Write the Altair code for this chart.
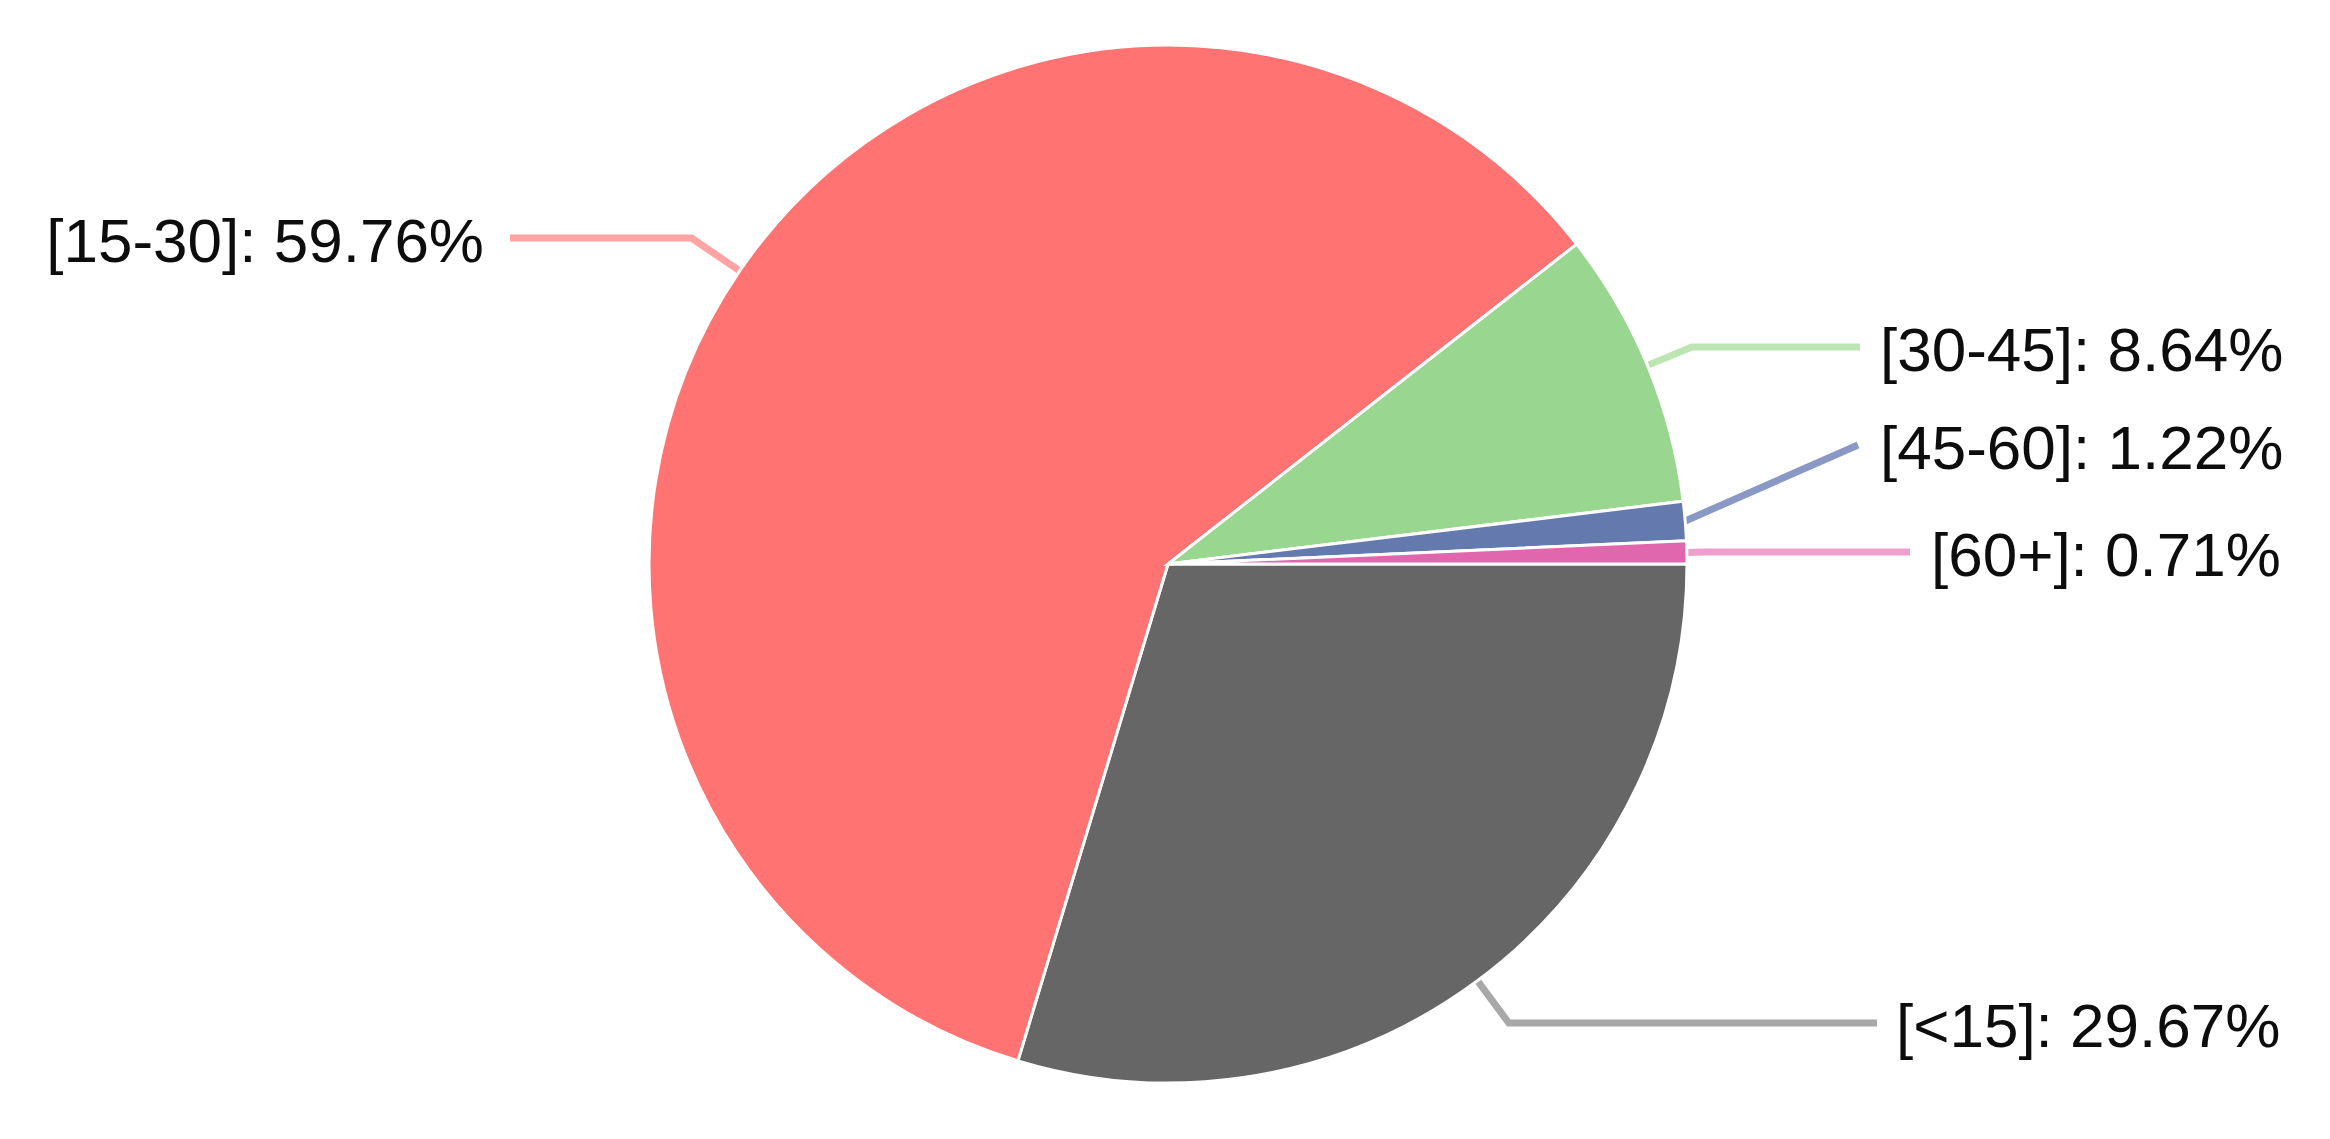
import math
import altair as alt
import pandas as pd

# ---- data ----
labels = ["[<15]", "[15-30]", "[30-45]", "[45-60]", "[60+]"]
shares = [29.67, 59.76, 8.64, 1.22, 0.71]

# ---- styles ----
slice_colors = ["#666666", "#FF7373", "#99D68F", "#6479AE", "#E066AE"]
line_colors = ["#A8A8A8", "#FFA3A3", "#BDE5B3", "#8998C4", "#EE9FCD"]

# ---- layout (chart pixel space) ----
W, H = 2314, 1123
CX, CY, R = 1160, 556, 519
label_line_x = [1869, 502, 1852, 1850, 1902]
label_line_y = [1015, 230, 339, 437, 544]
label_text_x = [1888, 476, 1872, 1872, 1923]
label_align = ["left", "right", "left", "left", "left"]
TEXT_DY = 24

total = sum(shares)
slices = pd.DataFrame({
    "label": labels,
    "value": shares,
    "order": list(range(len(labels))),
})

# leader lines: pie edge at mid-angle -> elbow -> label
line_rows = []
text_rows = []
cum = 0.0
for i, (lab, v) in enumerate(zip(labels, shares)):
    a = 2 * math.pi * (cum + v / 2) / total  # clockwise from 3 o'clock
    cum += v
    ex, ey = CX + R * math.cos(a), CY + R * math.sin(a)
    lx, ly = label_line_x[i], label_line_y[i]
    bx, by = ex, ey
    s = math.sin(a)
    if abs(s) > 1e-9:
        re = (ly - CY) / s
        px = CX + re * math.cos(a)
        if re > R and min(ex, lx) <= px <= max(ex, lx):
            bx, by = px, ly
    for k, (px_, py_) in enumerate([(ex, ey), (bx, by), (lx, ly)]):
        line_rows.append({"label": lab, "seq": k, "x": px_, "y": py_, "lc": line_colors[i]})
    text_rows.append({
        "label": lab,
        "text": f"{lab}: {v:.2f}%",
        "x": label_text_x[i],
        "y": ly + TEXT_DY,
        "align": label_align[i],
    })

lines_df = pd.DataFrame(line_rows)
text_df = pd.DataFrame(text_rows)

xs = alt.Scale(domain=[0, W], nice=False, zero=False)
ys = alt.Scale(domain=[0, H], nice=False, zero=False, reverse=True)

arcs = alt.Chart(slices).mark_arc(
    radius=R, stroke="white", strokeWidth=3
).encode(
    theta=alt.Theta("value:Q", stack=True,
                    scale=alt.Scale(range=[math.pi / 2, math.pi / 2 + 2 * math.pi])),
    order=alt.Order("order:Q"),
    color=alt.Color("label:N", scale=alt.Scale(domain=labels, range=slice_colors), legend=None),
    x=alt.value(CX),
    y=alt.value(CY),
)

lines = alt.Chart(lines_df).mark_line(strokeWidth=7).encode(
    x=alt.X("x:Q", scale=xs, axis=None),
    y=alt.Y("y:Q", scale=ys, axis=None),
    detail="label:N",
    order="seq:Q",
    color=alt.Color("lc:N", scale=None),
)

text_common = dict(font="Liberation Sans", fontSize=62, color="#0d0d0d", baseline="alphabetic")
text_left = alt.Chart(text_df).transform_filter(
    alt.datum.align == "left"
).mark_text(align="left", **text_common).encode(
    x=alt.X("x:Q", scale=xs, axis=None),
    y=alt.Y("y:Q", scale=ys, axis=None),
    text="text:N",
)
text_right = alt.Chart(text_df).transform_filter(
    alt.datum.align == "right"
).mark_text(align="right", **text_common).encode(
    x=alt.X("x:Q", scale=xs, axis=None),
    y=alt.Y("y:Q", scale=ys, axis=None),
    text="text:N",
)

chart = alt.layer(lines, arcs, text_left, text_right).properties(
    width=W, height=H, padding=0,
    autosize=alt.AutoSizeParams(type="none"),
).configure_view(stroke=None)

chart.save("out.html", embed_options={"renderer": "svg", "actions": False})
